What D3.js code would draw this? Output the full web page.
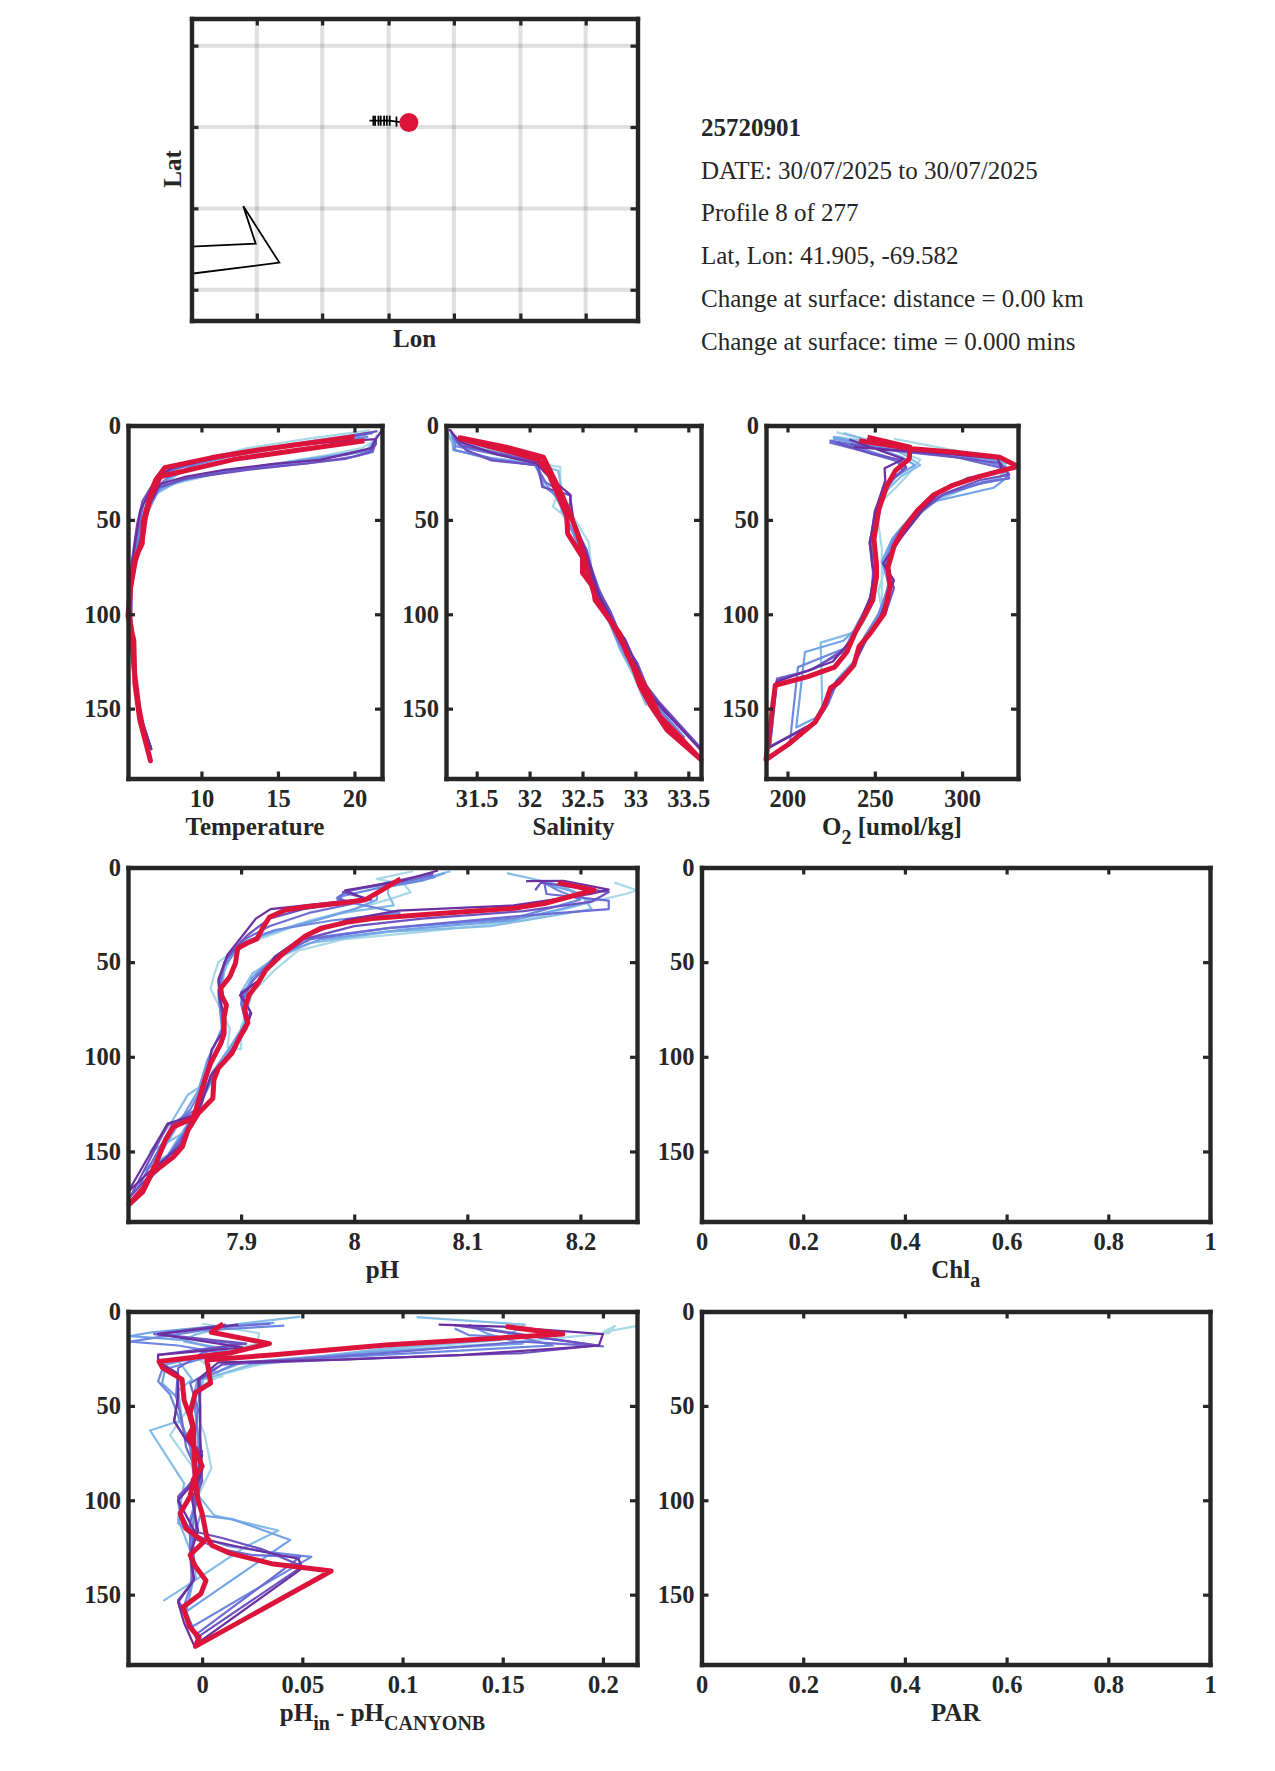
<!DOCTYPE html>
<html>
<head>
<meta charset="utf-8">
<script src="https://cdn.jsdelivr.net/npm/d3@7"></script>
<style>
body { margin: 0; background: #fff; }
svg { display: block; font-family: "Liberation Serif", serif; }
text { fill: #262626; }
</style>
</head>
<body>
<svg width="1275" height="1771"></svg>
<script>
'use strict';

// older profiles go light to dark, the current one is the thick red line
var profileColors = ['#a9d8e6', '#86bde6', '#72a3e8', '#6e88e0', '#6d6cd4', '#6c52c0', '#6b2fa0', '#dc143c'];

var infoLines = ['25720901', 'DATE: 30/07/2025 to 30/07/2025', 'Profile 8 of 277', 'Lat, Lon: 41.905, -69.582',
    'Change at surface: distance = 0.00 km', 'Change at surface: time = 0.000 mins'];

var depthTicks = [0, 50, 100, 150];
var depthLimits = [0, 187];

// map
var lonLimits = [-69.775, -69.379];
var latLimits = [41.686, 42.02];
var lonTicks = [-69.717, -69.659, -69.6, -69.542, -69.483, -69.425];
var latTicks = [41.72, 41.81, 41.9, 41.99];
var trackLon = [-69.617, -69.6135, -69.612, -69.609, -69.607, -69.604, -69.6016, -69.599, -69.593, -69.582];
var trackLat = [41.907, 41.907, 41.907, 41.907, 41.907, 41.907, 41.907, 41.907, 41.906, 41.905];
var coastLon = [-69.78, -69.718, -69.729, -69.697, -69.78];
var coastLat = [41.7675, 41.771, 41.8125, 41.75, 41.737];

// each profile is a list of [value, depth], down the cast and back up
var temperature = [
    [[21, 2.5], [17, 7], [13, 12], [10.2, 18], [8.6, 25], [7.4, 32], [6.6, 40], [6.2, 50], [5.9, 62], [5.5, 75], [5.3, 88], [5.3, 97], [5.35, 85], [5.7, 70], [6.1, 58], [6.5, 45], [7.1, 36], [8.2, 31], [11, 25.5], [15, 20], [18, 16], [20.5, 12], [21.3, 8], [21.8, 3]],
    [[20.7, 4], [16.5, 9], [12.5, 14], [9.8, 20], [8.2, 27], [7.2, 33], [6.5, 42], [6.1, 53], [5.7, 68], [5.35, 85], [5.25, 100], [5.45, 118], [5.6, 135], [5.85, 150], [5.6, 128], [5.4, 108], [5.35, 90], [5.65, 72], [6.05, 60], [6.4, 47], [7, 36], [8.1, 30.5], [11, 25], [15, 20], [18.5, 16], [20.8, 13], [21.2, 9], [21.5, 5]],
    [[20.8, 5], [16, 10], [12, 15], [9.6, 20.5], [8, 27.5], [7, 33], [6.4, 43], [6, 55], [5.6, 70], [5.3, 88], [5.2, 102], [5.5, 122], [5.75, 142], [6.15, 160], [5.85, 148], [5.55, 125], [5.35, 100], [5.4, 84], [5.7, 70], [6.1, 58], [6.5, 46], [7.1, 35], [8.5, 29.5], [12, 23.5], [16, 19], [19, 15.5], [21, 12.5], [21.3, 8]],
    [[20.9, 6], [16, 11], [12, 16], [9.5, 21], [7.8, 27.5], [6.9, 34], [6.3, 44], [5.95, 56], [5.55, 72], [5.28, 90], [5.22, 104], [5.52, 125], [5.8, 148], [6.35, 167], [5.95, 152], [5.6, 130], [5.35, 102], [5.42, 84], [5.75, 68], [6.1, 56], [6.55, 44], [7.3, 33], [9, 28.5], [12.5, 23], [16.5, 19], [19.5, 15.5], [21.1, 13], [21.3, 9]],
    [[21.2, 4], [17, 9], [13, 14.5], [10, 19], [8, 24], [6.9, 31], [6.2, 42], [5.9, 54], [5.5, 72], [5.27, 92], [5.25, 106], [5.55, 128], [5.9, 152], [6.7, 171], [6, 153], [5.62, 130], [5.35, 104], [5.4, 86], [5.72, 70], [6.1, 57], [6.45, 44], [7.2, 33], [9, 28], [13, 23], [17, 20], [20, 16.5], [21.2, 14], [21.4, 8.5]],
    [[21.5, 3], [18, 8], [14, 13], [10.5, 18], [8, 23], [6.9, 30], [6.15, 40], [5.8, 52], [5.45, 72], [5.25, 92], [5.25, 108], [5.58, 130], [5.95, 154], [6.72, 171], [6.05, 155], [5.65, 132], [5.38, 106], [5.42, 86], [5.75, 68], [6.15, 56], [6.4, 44], [7.1, 33], [9, 28], [13, 23.5], [17, 20], [19.5, 17.5], [21, 14], [21.4, 10], [21.4, 7.5]],
    [[21.84, 1.8], [21.4, 7.2], [18, 9], [14, 12.5], [10.5, 18], [8.2, 22], [7.1, 27], [6.5, 37], [6, 45], [5.7, 60], [5.35, 80], [5.2, 100], [5.6, 128], [5.95, 152], [6.73, 171.6], [6.1, 156], [5.7, 134], [5.42, 108], [5.42, 88], [5.75, 70], [6.2, 56], [6.6, 42], [7.3, 31], [9, 27], [11.5, 23.5], [14.6, 20.5], [17.8, 18.2], [21.1, 12], [21.4, 7.2]],
    [[20, 6], [13.7, 13], [10.7, 17], [7.6, 22.3], [7, 29], [6.65, 37], [6.2, 51], [6.13, 62.6], [5.7, 69.7], [5.37, 83.8], [5.2, 101], [5.58, 113.8], [5.65, 136.7], [5.97, 156], [6.67, 177.6], [6.23, 163], [5.9, 149], [5.58, 127.9], [5.47, 110], [5.26, 99.6], [5.37, 85.5], [5.69, 71.4], [6.13, 60.8], [6.34, 48.5], [6.67, 37.9], [7.32, 27], [12.2, 17.8], [17.2, 12], [20.65, 8.1]]
];

var salinity = [
    [[31.2, 2.3], [31.26, 8], [31.3, 13], [31.6, 17.6], [32.08, 20], [32.29, 22], [32.29, 32.6], [32.22, 43], [32.31, 47], [32.45, 60], [32.58, 75], [32.68, 90], [32.7, 97], [32.6, 85], [32.56, 62], [32.45, 52], [32.33, 40], [32.22, 28], [32.12, 19], [31.75, 13], [31.35, 9], [31.26, 4]],
    [[31.22, 3], [31.27, 9], [31.28, 13], [31.62, 17], [32.06, 20], [32.27, 24], [32.3, 33], [32.3, 45], [32.42, 58], [32.54, 75], [32.66, 92], [32.8, 108], [32.85, 118], [32.98, 132], [33.1, 148], [32.97, 126], [32.84, 112], [32.72, 98], [32.6, 82], [32.5, 64], [32.38, 46], [32.24, 28], [32.1, 19], [31.7, 13], [31.3, 8]],
    [[31.26, 4], [31.28, 8], [31.28, 13], [31.65, 17.5], [32.05, 21], [32.14, 30], [32.25, 38], [32.36, 50], [32.48, 66], [32.58, 84], [32.72, 100], [32.84, 116], [32.96, 128], [33.08, 142], [33.38, 160], [33.14, 148], [33, 132], [32.86, 116], [32.74, 100], [32.62, 86], [32.52, 68], [32.4, 50], [32.27, 32], [32.1, 19], [31.68, 14], [31.28, 9]],
    [[31.27, 6], [31.3, 9], [31.29, 13], [31.66, 18], [32.06, 21], [32.13, 32], [32.3, 39], [32.36, 50], [32.5, 68], [32.6, 86], [32.73, 100], [32.85, 116], [33, 126], [33.1, 142], [33.46, 165], [33.18, 148], [33.03, 134], [32.88, 116], [32.76, 101], [32.63, 86], [32.52, 68], [32.42, 52], [32.28, 34], [32.1, 20], [31.66, 15], [31.3, 11]],
    [[31.3, 6], [31.35, 10], [31.42, 14], [31.66, 18], [32.06, 21], [32.15, 30], [32.32, 36], [32.38, 48], [32.52, 66], [32.62, 86], [32.76, 100], [32.88, 114], [33, 128], [33.14, 142], [33.62, 171], [33.25, 150], [33.05, 134], [32.9, 116], [32.78, 102], [32.65, 86], [32.54, 68], [32.42, 52], [32.3, 35], [32.12, 20], [31.68, 15], [31.32, 10]],
    [[31.25, 2.3], [31.32, 8.8], [31.4, 13], [31.64, 18.5], [32.08, 21], [32.12, 32.6], [32.39, 37], [32.37, 47], [32.54, 66], [32.62, 84], [32.76, 98], [32.88, 114], [33.02, 126], [33.12, 140], [33.62, 171], [33.3, 152], [33.08, 136], [32.9, 118], [32.78, 103], [32.65, 88], [32.56, 72], [32.44, 54], [32.32, 38], [32.14, 20], [31.72, 15], [31.38, 11]],
    [[31.24, 2], [31.3, 6], [31.36, 9], [31.7, 15.5], [32.06, 20], [32.18, 27], [32.38, 36.5], [32.42, 52], [32.55, 70], [32.63, 88], [32.76, 102], [32.9, 113], [33.02, 128], [33.12, 142], [33.62, 172], [33.34, 155], [33.1, 140], [32.96, 124], [32.8, 105], [32.66, 90], [32.56, 72], [32.46, 56], [32.34, 40], [32.16, 20], [31.75, 13], [31.4, 8]],
    [[31.32, 6.5], [31.645, 11.5], [31.89, 15], [32.08, 18], [32.18, 25.6], [32.25, 34.4], [32.35, 47.6], [32.36, 57.3], [32.5, 69.7], [32.5, 78], [32.6, 85.5], [32.62, 92.6], [32.77, 104], [32.88, 115.5], [32.98, 128], [33.04, 137.6], [33.14, 148], [33.3, 161.4], [33.62, 177], [33.42, 165], [33.23, 154], [33.13, 142], [33.04, 133], [32.92, 121], [32.85, 110], [32.73, 101], [32.62, 91], [32.56, 80], [32.52, 70], [32.45, 57], [32.37, 45], [32.27, 32.6], [32.13, 16.8], [31.78, 11.5], [31.34, 6.5]]
];

var oxygen = [
    [[228, 3.5], [250, 9], [262, 13], [276, 18], [270, 25], [262, 33], [252, 42], [252, 52], [254, 65], [254, 80], [254, 97], [252, 88], [256, 75], [262, 62], [272, 50], [285, 40], [303, 33], [322, 27], [324, 20], [300, 14], [261, 7]],
    [[232, 4], [255, 10], [268, 16], [276, 21], [265, 27], [255, 36], [252, 48], [250, 62], [251, 78], [250, 92], [243, 105], [237, 110], [219, 115], [220, 149], [228, 136], [238, 125], [243, 115], [250, 108], [256, 96], [258, 82], [256, 72], [262, 58], [272, 47], [285, 39], [305, 32], [322, 28], [325, 20], [300, 15], [262, 11], [228, 6]],
    [[226, 6], [248, 11], [266, 17], [273, 21], [262, 27], [254, 38], [250, 50], [248, 65], [250, 80], [248, 95], [240, 107], [232, 114], [210, 120], [205, 160], [216, 155], [222, 146], [228, 135], [238, 125], [245, 112], [254, 98], [258, 83], [254, 72], [260, 60], [270, 49], [285, 40], [318, 33], [325, 28], [322, 19], [295, 15], [250, 11], [226, 7]],
    [[225, 8], [245, 13], [262, 18], [268, 23], [257, 30], [250, 45], [248, 60], [250, 78], [247, 93], [240, 105], [233, 118], [206, 128], [201.5, 167], [215, 158], [222, 148], [228, 137], [237, 127], [244, 112], [252, 100], [258, 85], [255, 73], [262, 58], [272, 47], [285, 38], [310, 31], [326, 28], [325, 22], [300, 16], [240, 9]],
    [[224, 9], [245, 14], [263, 19], [266, 24], [256, 32], [250, 48], [247, 62], [250, 78], [247, 92], [241, 105], [232, 120], [212, 130], [194, 134], [190, 170], [216, 158], [223, 148], [228, 137], [238, 126], [245, 112], [255, 99], [260, 84], [257, 72], [263, 58], [274, 46], [288, 37], [312, 30], [327, 28], [325, 23], [298, 17], [258, 13], [224, 8]],
    [[228, 9], [248, 15], [264, 18], [268, 22], [258, 30], [251, 46], [247, 62], [249, 78], [248, 90], [242, 103], [235, 117], [215, 129], [194, 135], [190, 170], [216, 157], [224, 142], [232, 134], [239, 125], [246, 112], [256, 100], [261, 86], [256, 74], [264, 60], [276, 46], [290, 36], [310, 29], [327, 26], [322, 20], [290, 16], [260, 13], [236, 10]],
    [[235.4, 7.4], [266.5, 17.7], [255.6, 22.6], [256, 29], [250, 46], [247.3, 62], [248.6, 74], [249.8, 78], [247.5, 90.8], [242, 103], [236, 114], [226, 125], [207, 131.4], [193.7, 135.8], [189, 171], [216, 157], [225, 138.5], [238.6, 126], [244, 114], [253, 101.4], [261, 82], [254.7, 73], [265.5, 59], [279, 43], [288, 34.4], [303.6, 27.7], [315, 25.6], [322.6, 23], [320.4, 17.6], [292, 15], [262, 13], [238, 11.5]],
    [[245.8, 6.2], [270.2, 11.5], [269.7, 17.7], [261.8, 23.9], [257, 31.8], [252.4, 44.2], [249.5, 60], [251, 74], [251, 80], [248.7, 92.6], [244, 101], [238.6, 110], [234, 120], [227, 128], [211.7, 133], [193, 137.6], [187.7, 177], [200.4, 169], [216, 157], [221, 149], [224.7, 139], [229.6, 136], [238, 127], [241, 117], [247.5, 110], [255.4, 99.6], [258.7, 85.5], [257.6, 75], [261, 64], [266.6, 54.7], [274.4, 45], [283.4, 37], [294.6, 31.7], [310, 27], [332, 21.7], [321.5, 16.8], [294.6, 14], [271, 12.3], [241, 8]]
];

var ph = [
    [[8.052, 2], [8.02, 6], [8.044, 9], [8.05, 13], [8.03, 17], [8.0, 22], [7.96, 28], [7.93, 35], [7.9, 41], [7.88, 50], [7.876, 57], [7.873, 64], [7.882, 75], [7.89, 85], [7.888, 95], [7.9, 96], [7.9, 84], [7.905, 76], [7.91, 66], [7.93, 54], [7.95, 44], [7.99, 38], [8.06, 34], [8.15, 28], [8.21, 18], [8.24, 14], [8.25, 12], [8.23, 8]],
    [[8.085, 2], [8.06, 6], [8.03, 9], [8.03, 14], [8.035, 20], [7.99, 24], [7.95, 30], [7.92, 36], [7.895, 42], [7.885, 55], [7.882, 70], [7.885, 88], [7.875, 100], [7.866, 115], [7.853, 120], [7.84, 133], [7.82, 150], [7.85, 140], [7.86, 128], [7.874, 112], [7.89, 96], [7.905, 80], [7.9, 66], [7.91, 56], [7.925, 50], [7.96, 40], [8.03, 34], [8.12, 31], [8.21, 22], [8.2, 14], [8.18, 9], [8.135, 3]],
    [[8.08, 3], [8.06, 7], [8.03, 10], [8.02, 14], [8.02, 17], [8.0, 22], [7.96, 29], [7.92, 35], [7.9, 41], [7.885, 52], [7.88, 68], [7.884, 85], [7.87, 102], [7.862, 118], [7.85, 130], [7.83, 150], [7.815, 160], [7.835, 152], [7.85, 138], [7.865, 124], [7.875, 108], [7.89, 95], [7.904, 82], [7.9, 70], [7.91, 58], [7.93, 47], [7.97, 38], [8.04, 33], [8.14, 28], [8.21, 18], [8.19, 12], [8.17, 9]],
    [[8.072, 5], [8.05, 8], [8.02, 11], [7.99, 15], [7.985, 17], [8.04, 24], [7.98, 28], [7.93, 33], [7.9, 40], [7.885, 52], [7.88, 66], [7.883, 85], [7.872, 100], [7.864, 118], [7.855, 128], [7.84, 136], [7.815, 167], [7.84, 152], [7.852, 138], [7.866, 122], [7.878, 108], [7.893, 95], [7.906, 80], [7.9, 68], [7.915, 56], [7.935, 45], [7.965, 37], [8.03, 32], [8.14, 27], [8.2, 17], [8.18, 12], [8.165, 7]],
    [[8.07, 4], [8.04, 8], [7.995, 12], [7.985, 16], [8.0, 19], [7.96, 24], [7.925, 31], [7.9, 39], [7.885, 50], [7.88, 65], [7.884, 80], [7.884, 92], [7.873, 102], [7.866, 116], [7.86, 128], [7.84, 135], [7.808, 170], [7.835, 153], [7.85, 140], [7.865, 122], [7.876, 108], [7.894, 96], [7.905, 84], [7.9, 72], [7.91, 60], [7.93, 48], [7.96, 38], [8.03, 32], [8.14, 26], [8.225, 22], [8.225, 17.5], [8.17, 14], [8.168, 8]],
    [[8.07, 3], [8.03, 8], [7.99, 13], [8.015, 17], [7.955, 22], [7.925, 27], [7.905, 36], [7.887, 48], [7.88, 60], [7.883, 76], [7.885, 90], [7.875, 100], [7.868, 115], [7.86, 130], [7.835, 136], [7.802, 174], [7.826, 158], [7.846, 146], [7.855, 134], [7.866, 122], [7.875, 108], [7.892, 97], [7.905, 85], [7.908, 76], [7.9, 66], [7.915, 60], [7.93, 48], [7.955, 38], [8.0, 31], [8.06, 27], [8.15, 23], [8.21, 18], [8.225, 13], [8.165, 8], [8.16, 12]],
    [[8.074, 1.6], [8.043, 6.9], [7.992, 12], [8.01, 16.6], [7.926, 22], [7.913, 27], [7.9, 37], [7.888, 46], [7.88, 59], [7.881, 69.6], [7.885, 78], [7.883, 87.6], [7.874, 96], [7.869, 112], [7.862, 125], [7.859, 131], [7.835, 135.3], [7.8, 171.4], [7.822, 159], [7.847, 147], [7.855, 135], [7.865, 125], [7.873, 110], [7.89, 98], [7.905, 84], [7.909, 77], [7.899, 67.4], [7.916, 59.4], [7.93, 47], [7.953, 37.3], [7.993, 27.7], [8.039, 22.8], [8.141, 20], [8.209, 14], [8.225, 11.7], [8.185, 7], [8.152, 7.2]],
    [[8.041, 6], [8.027, 11], [8.01, 17], [7.993, 18.5], [7.959, 20.6], [7.939, 22.4], [7.925, 26.3], [7.919, 32], [7.914, 37.7], [7.905, 40], [7.897, 42.7], [7.895, 50.6], [7.89, 57.7], [7.882, 63.8], [7.883, 68], [7.887, 72.7], [7.885, 79], [7.885, 87.7], [7.882, 93], [7.873, 103.5], [7.868, 112], [7.864, 120], [7.86, 128], [7.857, 132.6], [7.84, 137], [7.833, 144], [7.825, 156], [7.814, 169], [7.801, 178], [7.813, 171.4], [7.821, 161.7], [7.84, 153], [7.848, 147.6], [7.853, 138.8], [7.862, 130], [7.875, 122], [7.876, 112], [7.88, 106], [7.892, 98], [7.899, 89.4], [7.906, 82], [7.903, 75], [7.907, 67.4], [7.915, 61], [7.922, 54], [7.936, 46], [7.956, 36.5], [7.971, 32], [7.993, 29], [8.016, 27], [8.06, 25], [8.141, 21.5], [8.168, 19], [8.191, 15.3], [8.212, 12], [8.18, 8]]
];

var phDiff = [
    [[0, 6.5], [0.0283, 11.5], [0.028, 17], [-0.003, 24], [0.01, 34.5], [-0.003, 36], [-0.003, 54], [0.0013, 65.5], [0.0046, 83], [-0.0015, 96.5], [-0.005, 82], [-0.016, 65.5], [-0.011, 57.5], [-0.006, 50], [-0.0015, 40], [0.011, 33], [0.029, 28], [0.092, 20], [0.149, 17], [0.203, 11.5], [0.206, 7.6], [0.2, 11], [0.217, 7.6]],
    [[0.049, 2.7], [0.0156, 7], [-0.004, 12.4], [-0.009, 16], [0.0137, 20], [-0.012, 26], [-0.005, 36], [-0.012, 42], [-0.01, 57.5], [-0.026, 63], [-0.009, 91], [-0.012, 110], [-0.008, 121], [-0.004, 132], [-0.003, 142], [-0.019, 153], [-0.003, 142], [0.021, 125], [0.038, 116], [0.006, 108], [-0.003, 96], [-0.002, 72], [-0.003, 54], [0.0005, 36], [0.025, 28], [0.092, 19.5], [0.149, 15], [0.161, 7], [0.107, 3]],
    [[0.036, 6], [0.005, 8], [-0.025, 11], [-0.036, 13], [-0.01, 15], [0.012, 21], [-0.018, 28], [-0.02, 38], [-0.012, 46], [-0.01, 60], [-0.004, 75], [-0.002, 90], [-0.008, 100], [-0.012, 112], [-0.004, 120], [-0.001, 108], [0.015, 110], [0.044, 121], [-0.008, 159], [-0.005, 145], [-0.005, 128], [-0.006, 110], [-0.002, 96], [-0.005, 75], [-0.006, 50], [-0.002, 36], [0.02, 27], [0.09, 21], [0.16, 17], [0.143, 12], [0.133, 7]],
    [[0.041, 7.5], [0.0, 10], [-0.036, 16], [-0.012, 18], [0.01, 22], [-0.02, 31], [-0.022, 37], [-0.016, 44], [-0.011, 58], [-0.006, 72], [-0.004, 88], [-0.012, 100], [-0.01, 112], [-0.005, 118], [0.012, 124], [0.03, 127], [0.0545, 130], [-0.005, 167], [-0.009, 156], [-0.006, 146], [-0.004, 132], [-0.005, 116], [-0.003, 100], [-0.001, 85], [-0.002, 65], [-0.004, 48], [-0.001, 36], [0.018, 27], [0.09, 23], [0.175, 18], [0.16, 14], [0.133, 12.5], [0.126, 9]],
    [[0.034, 6.5], [0.0, 9], [-0.024, 12], [0.0, 15], [0.018, 17], [0.0, 22], [-0.012, 30], [-0.013, 45], [-0.01, 58], [-0.008, 72], [-0.002, 86], [-0.012, 100], [-0.01, 110], [-0.005, 120], [0.01, 126], [0.025, 129], [0.049, 130], [-0.003, 171], [-0.008, 160], [-0.012, 153], [-0.005, 144], [-0.006, 128], [-0.006, 112], [-0.002, 98], [0, 84], [-0.004, 70], [-0.002, 52], [-0.006, 38], [0.01, 28], [0.09, 22], [0.16, 16], [0.2, 18.5], [0.17, 14], [0.133, 7.5]],
    [[0.012, 7], [-0.022, 12], [0.022, 17], [-0.022, 23], [-0.022, 26], [-0.012, 33], [-0.012, 45], [-0.014, 58], [-0.008, 68], [0, 74], [-0.003, 88], [-0.012, 98], [-0.01, 108], [-0.006, 116], [0.01, 120], [0.03, 126], [0.05, 135], [-0.003, 173], [-0.007, 165], [-0.012, 153], [-0.004, 142], [-0.006, 129], [-0.003, 116], [-0.004, 100], [0, 90], [-0.001, 72], [-0.001, 52], [-0.001, 36], [0.01, 28], [0.08, 25], [0.16, 22], [0.198, 18], [0.17, 14], [0.124, 7]],
    [[0.018, 7], [-0.022, 12], [0.02, 19], [-0.022, 23], [-0.022, 27], [-0.012, 33], [-0.012, 46], [-0.014, 58], [-0.008, 68], [0, 76], [-0.002, 88], [-0.012, 100], [-0.008, 108], [-0.002, 120], [0.02, 125], [0.048, 131], [0.05, 136], [-0.004, 177], [-0.009, 165], [-0.012, 154], [-0.004, 142], [-0.006, 129], [-0.002, 116], [-0.005, 100], [0, 84], [-0.001, 66], [-0.001, 50], [-0.002, 36], [0.008, 27], [0.07, 25.5], [0.13, 23], [0.198, 18], [0.2, 12], [0.15, 8], [0.118, 7]],
    [[0.0105, 6.5], [0.0046, 11], [0.0336, 17], [0.0137, 22], [-0.0215, 26.5], [-0.0196, 30], [-0.01, 36], [-0.009, 47], [-0.0063, 55], [-0.0044, 62], [-0.004, 75], [-0.0034, 90], [-0.002, 100], [0, 107], [0.0023, 119.5], [0.005, 124], [0.0137, 128], [0.0346, 133.6], [0.0644, 137.5], [-0.0034, 177.4], [-0.0015, 172.6], [-0.0063, 167], [-0.0095, 156.6], [-0.0006, 149.5], [0.0019, 142.5], [-0.0034, 135], [-0.006, 129], [0.0008, 122], [-0.008, 115], [-0.011, 107], [-0.006, 98], [-0.0044, 89], [0, 82], [-0.0034, 73.5], [-0.007, 66], [-0.0044, 61], [-0.006, 54], [-0.0034, 43], [0.0042, 38], [0.0032, 31], [0.0023, 25.7], [0.0346, 23], [0.0916, 17.7], [0.1487, 14], [0.18, 11.9], [0.1515, 8]]
];

var svg = d3.select('svg');

var ink = '#262626';
var frameWidth = 4.4;

function addFrame(x, y, xTicks, yTicks, showLabels, fmt) {
    var bottom = d3.max(y.range()), top = d3.min(y.range());
    var left = x.range()[0], right = x.range()[1];
    var tick = 7;
    var noLabel = function() { return ''; };

    // four-sided MATLAB box, ticks point inward on all of them
    var axes = [
        { g: d3.axisBottom(x).tickValues(xTicks).tickSizeInner(-tick).tickSizeOuter(0).tickPadding(11).tickFormat(showLabels ? fmt : noLabel), at: [0, bottom] },
        { g: d3.axisTop(x).tickValues(xTicks).tickSizeInner(-tick).tickSizeOuter(0).tickFormat(noLabel), at: [0, top] },
        { g: d3.axisLeft(y).tickValues(yTicks).tickSizeInner(-tick).tickSizeOuter(0).tickPadding(7).tickFormat(showLabels ? d3.format('d') : noLabel), at: [left, 0] },
        { g: d3.axisRight(y).tickValues(yTicks).tickSizeInner(-tick).tickSizeOuter(0).tickFormat(noLabel), at: [right, 0] }
    ];
    axes.forEach(function(a) {
        var g = svg.append('g')
            .attr('transform', 'translate(' + a.at[0] + ',' + a.at[1] + ')')
            .call(a.g);
        g.select('.domain')
            .attr('stroke', ink)
            .attr('stroke-width', frameWidth)
            .attr('stroke-linecap', 'square');
        g.selectAll('.tick line')
            .attr('stroke', ink)
            .attr('stroke-width', 3.2);
        g.selectAll('.tick text')
            .attr('font-family', '"Liberation Serif", serif')
            .attr('font-size', 24.5)
            .attr('font-weight', 'bold')
            .attr('fill', ink);
    });
}

function addProfiles(x, y, profiles) {
    var line = d3.line()
        .x(function(d) { return x(d[0]); })
        .y(function(d) { return y(d[1]); });

    svg.append('g')
        .selectAll('path')
        .data(profiles)
        .enter()
        .append('path')
        .attr('d', line)
        .attr('fill', 'none')
        .attr('stroke-linejoin', 'round')
        .attr('stroke', function(d, i) { return profileColors[i]; })
        .attr('stroke-width', function(d, i) { return i === profiles.length - 1 ? 5 : 2.2; });
}

// text label under a panel, parts = [[string, isSubscript], ...]
function addLabel(cx, yPos, parts) {
    var t = svg.append('text')
        .attr('x', cx)
        .attr('y', yPos)
        .attr('text-anchor', 'middle')
        .attr('font-size', 25)
        .attr('font-weight', 'bold');
    var lowered = false;
    parts.forEach(function(p) {
        var s = t.append('tspan').text(p[0]);
        if (p[1] && !lowered) {
            s.attr('dy', 9).attr('font-size', 20);
            lowered = true;
        } else if (!p[1] && lowered) {
            s.attr('dy', -9);
            lowered = false;
        }
    });
}

function panel(box, xLimits, xTicks, fmt, profiles, label) {
    var x = d3.scaleLinear().domain(xLimits).range([box[0], box[1]]);
    var y = d3.scaleLinear().domain(depthLimits).range([box[2], box[3]]);
    if (profiles) addProfiles(x, y, profiles);
    addFrame(x, y, xTicks, depthTicks, true, fmt);
    addLabel((box[0] + box[1]) / 2, box[3] + 56, label);
}

var fmtPlain = function(d) { return String(d); };

panel([128, 382, 425.5, 778.5], [5.2, 21.8], [10, 15, 20], fmtPlain, temperature, [['Temperature']]);
panel([446, 701, 425.5, 778.5], [31.21, 33.62], [31.5, 32, 32.5, 33, 33.5], fmtPlain, salinity, [['Salinity']]);
panel([766, 1018, 425.5, 778.5], [187.7, 332], [200, 250, 300], fmtPlain, oxygen, [['O'], ['2', true], [' [umol/kg]']]);
panel([128, 637, 867.5, 1221.5], [7.8, 8.25], [7.9, 8, 8.1, 8.2], fmtPlain, ph, [['pH']]);
panel([701.5, 1210, 867.5, 1221.5], [0, 1], [0, 0.2, 0.4, 0.6, 0.8, 1], fmtPlain, null, [['Chl'], ['a', true]]);
panel([128, 637, 1311.5, 1664.5], [-0.037, 0.217], [0, 0.05, 0.1, 0.15, 0.2], fmtPlain, phDiff, [['pH'], ['in', true], [' - pH'], ['CANYONB', true]]);
panel([701.5, 1210, 1311.5, 1664.5], [0, 1], [0, 0.2, 0.4, 0.6, 0.8, 1], fmtPlain, null, [['PAR']]);

// map panel
var mapX = d3.scaleLinear().domain(lonLimits).range([191.5, 637.5]);
var mapY = d3.scaleLinear().domain(latLimits).range([320.5, 18.5]);

svg.append('clipPath').attr('id', 'mapClip').append('rect')
    .attr('x', 191).attr('y', 18).attr('width', 446).attr('height', 302);

svg.append('g')
    .selectAll('line')
    .data(lonTicks)
    .enter()
    .append('line')
    .attr('x1', function(d) { return mapX(d); })
    .attr('x2', function(d) { return mapX(d); })
    .attr('y1', 18)
    .attr('y2', 320)
    .attr('stroke', 'rgba(38,38,38,0.14)')
    .attr('stroke-width', 4);

svg.append('g')
    .selectAll('line')
    .data(latTicks)
    .enter()
    .append('line')
    .attr('x1', 191)
    .attr('x2', 637)
    .attr('y1', function(d) { return mapY(d); })
    .attr('y2', function(d) { return mapY(d); })
    .attr('stroke', 'rgba(38,38,38,0.14)')
    .attr('stroke-width', 4);

var coastLine = d3.line()
    .x(function(d, i) { return mapX(coastLon[i]); })
    .y(function(d, i) { return mapY(coastLat[i]); });

svg.append('path')
    .attr('d', coastLine(coastLon))
    .attr('clip-path', 'url(#mapClip)')
    .attr('fill', 'none')
    .attr('stroke', '#000')
    .attr('stroke-width', 1.8);

var trackLine = d3.line()
    .x(function(d, i) { return mapX(trackLon[i]); })
    .y(function(d, i) { return mapY(trackLat[i]); });

svg.append('path')
    .attr('d', trackLine(trackLon))
    .attr('fill', 'none')
    .attr('stroke', '#000')
    .attr('stroke-width', 1.8);

svg.append('g')
    .selectAll('line')
    .data(trackLon.slice(1, -1))
    .enter()
    .append('line')
    .attr('x1', function(d) { return mapX(d); })
    .attr('x2', function(d) { return mapX(d); })
    .attr('y1', function(d, i) { return mapY(trackLat[i + 1]) - 5; })
    .attr('y2', function(d, i) { return mapY(trackLat[i + 1]) + 5; })
    .attr('stroke', '#000')
    .attr('stroke-width', 1.8);

svg.append('circle')
    .attr('cx', mapX(trackLon[trackLon.length - 1]))
    .attr('cy', mapY(trackLat[trackLat.length - 1]))
    .attr('r', 9.5)
    .attr('fill', '#dc143c');

addFrame(mapX, mapY, lonTicks, latTicks, false, fmtPlain);

addLabel(414.5, 347, [['Lon']]);
svg.append('text')
    .attr('transform', 'translate(181,169) rotate(-90)')
    .attr('text-anchor', 'middle')
    .attr('font-size', 25)
    .attr('font-weight', 'bold')
    .text('Lat');

// text block to the right of the map
svg.append('g')
    .selectAll('text')
    .data(infoLines)
    .enter()
    .append('text')
    .attr('x', 701)
    .attr('y', function(d, i) { return 136 + i * 42.7; })
    .attr('font-size', 25)
    .attr('font-weight', function(d, i) { return i === 0 ? 'bold' : 'normal'; })
    .text(function(d) { return d; });
</script>
</body>
</html>
